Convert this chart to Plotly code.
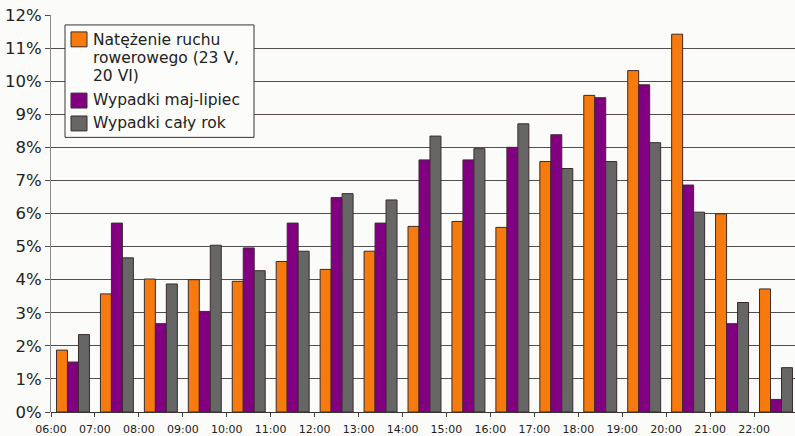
import plotly.graph_objects as go

# Hour slots (label marks the start of each one-hour slot)
hours = ["06:00", "07:00", "08:00", "09:00", "10:00", "11:00", "12:00", "13:00",
         "14:00", "15:00", "16:00", "17:00", "18:00", "19:00", "20:00", "21:00", "22:00"]

# Share of daily total, in percent
traffic = [1.87, 3.57, 4.02, 4.00, 3.95, 4.55, 4.31, 4.86, 5.61, 5.76, 5.58,
           7.57, 9.57, 10.32, 11.42, 5.99, 3.72]
accidents_summer = [1.51, 5.71, 2.67, 3.04, 4.96, 5.71, 6.48, 5.71, 7.62, 7.62, 8.00,
                    8.38, 9.50, 9.89, 6.86, 2.67, 0.38]
accidents_year = [2.34, 4.66, 3.87, 5.04, 4.27, 4.86, 6.60, 6.41, 8.34, 7.96, 8.71,
                  7.36, 7.57, 8.14, 6.04, 3.31, 1.34]

names = ["Natężenie ruchu rowerowego (23 V, 20 VI)", "Wypadki maj-lipiec", "Wypadki cały rok"]
legend_lines = [["Natężenie ruchu", "rowerowego (23 V,", "20 VI)"],
                ["Wypadki maj-lipiec"],
                ["Wypadki cały rok"]]
colors = ["#f77a0e", "#800080", "#666666"]
series = [traffic, accidents_summer, accidents_year]

y_ticks = list(range(0, 13))

W, H = 795, 436
L, R, T, B = 51, 0, 15, 22
plot_w = W - L - R
plot_h = H - T - B


def px(x):
    return (x - L) / plot_w


def py(y):
    return (H - B - y) / plot_h


x_pos = list(range(len(hours)))
group_px = 43.94
x_right = -0.5 + plot_w / group_px

fig = go.Figure()
for name, vals, col in zip(names, series, colors):
    fig.add_trace(go.Bar(
        x=x_pos, y=vals, name=name,
        marker=dict(color=col, line=dict(color="#3a2b2b", width=1)),
        showlegend=False,
    ))

fig.update_layout(
    width=W, height=H,
    margin=dict(l=L, r=R, t=T, b=B, pad=0),
    paper_bgcolor="#fbfbf9",
    plot_bgcolor="#fbfbf9",
    barmode="group",
    bargap=0.25,
    bargroupgap=0,
    font=dict(family="DejaVu Sans", color="#222222"),
    xaxis=dict(
        range=[-0.5, x_right],
        tickmode="array",
        tickvals=[i - 0.5 for i in x_pos],
        ticktext=hours,
        ticks="outside", ticklen=4, tickwidth=1, tickcolor="#444444",
        tickfont=dict(size=11, color="#222222"),
        ticklabelstandoff=3,
        showgrid=False, zeroline=False, showline=False,
    ),
    yaxis=dict(
        range=[0, 12],
        tickmode="array",
        tickvals=y_ticks,
        ticktext=[f"{v}%" for v in y_ticks],
        ticks="outside", ticklen=5, tickwidth=1, tickcolor="#554d4d",
        tickfont=dict(size=16.5, color="#222222"),
        showgrid=True, gridcolor="#554d4d", gridwidth=1,
        zeroline=True, zerolinecolor="#3a3333", zerolinewidth=1,
        showline=True, linecolor="#8a8a8a", linewidth=1,
    ),
)

# Legend box
fig.add_shape(type="rect", xref="paper", yref="paper",
              x0=px(65), x1=px(254), y0=py(25), y1=py(138),
              fillcolor="#fcfcfa", line=dict(color="#3a3333", width=1), layer="above")

swatch_tops = [32, 93.5, 116.5]
line_centers = [[40, 58.5, 76.5], [100.5], [124]]
for col, top, lines, centers in zip(colors, swatch_tops, legend_lines, line_centers):
    fig.add_shape(type="rect", xref="paper", yref="paper",
                  x0=px(71), x1=px(87), y0=py(top), y1=py(top + 15),
                  fillcolor=col, line=dict(color="#3a2b2b", width=1), layer="above")
    for text, cy in zip(lines, centers):
        fig.add_annotation(xref="paper", yref="paper", x=px(91), y=py(cy),
                           xanchor="left", yanchor="middle", text=text,
                           showarrow=False,
                           font=dict(size=15.5, color="#222222", family="DejaVu Sans"))

fig.write_html("out.html")
